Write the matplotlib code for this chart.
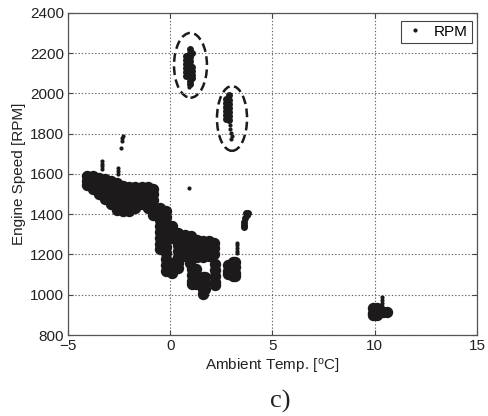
import matplotlib
matplotlib.use("Agg")
import matplotlib.pyplot as plt
from matplotlib.patches import Ellipse

plt.rcParams['font.family'] = ['Liberation Sans', 'DejaVu Sans']
plt.rcParams['mathtext.default'] = 'regular'

# engine speed vs ambient temperature, dense logged samples
# stored as columns: (temperature, [rpm values at that temperature])
main_band = [
    (-4.05, [1588, 1566, 1545]),
    (-3.8, [1590, 1563, 1537, 1525]),
    (-3.5, [1580, 1553, 1523, 1500]),
    (-3.2, [1573, 1546, 1516, 1488, 1475]),
    (-2.9, [1563, 1536, 1506, 1476, 1450]),
    (-2.6, [1555, 1528, 1498, 1468, 1440, 1422]),
    (-2.3, [1540, 1513, 1483, 1453, 1423, 1414]),
    (-2.0, [1535, 1508, 1478, 1448, 1418]),
    (-1.7, [1535, 1508, 1478, 1448, 1430]),
    (-1.4, [1535, 1508, 1478, 1450]),
    (-1.1, [1533, 1506, 1476, 1446, 1430]),
    (-0.82, [1527, 1500, 1470, 1440, 1410, 1395]),
    (-0.5, [1430, 1403, 1373, 1343, 1313, 1283, 1253, 1225]),
    (-0.2, [1415, 1388, 1358, 1328, 1298, 1268, 1238, 1208, 1178, 1148, 1120]),
    (0.1, [1340, 1313, 1282, 1160, 1130, 1106]),
    (0.4, [1305, 1278, 1248, 1218, 1188, 1158, 1134]),
    (0.7, [1295, 1268, 1238, 1208, 1192]),
    (1.0, [1293, 1266, 1236, 1206, 1189]),
    (1.3, [1270, 1243, 1213, 1189]),
    (1.6, [1265, 1238, 1208, 1189]),
    (1.9, [1265, 1238, 1208, 1194]),
    (2.12, [1258, 1230, 1202]),
]
low_lobes = [
    (0.95, [1158]),
    (1.05, [1128, 1100, 1070, 1055]),
    (1.25, [1128, 1100, 1070, 1055]),
    (1.6, [1088, 1060, 1030, 1004]),
    (1.72, [1088, 1060, 1030]),
    (2.2, [1153, 1125, 1095, 1065, 1050]),
]
warm_3c = [
    (2.82, [1148, 1120, 1102]),
    (3.05, [1165, 1138, 1108, 1092]),
    (3.17, [1165, 1138, 1108, 1092]),
]
warm_10c = [
    (9.9, [936, 908, 900]),
    (10.12, [936, 908, 900]),
    (10.4, [912]),
    (10.6, [912]),
]

# smaller clusters
idle_37 = [(3.72, [1405]), (3.8, [1407]), (3.75, [1395]), (3.66, [1380]),
           (3.62, [1362]), (3.6, [1346]), (3.62, [1336])]
high_a = [
    (0.78, [2185, 2165, 2145, 2125, 2105, 2085]),
    (0.95, [2220, 2200, 2180, 2160, 2140, 2120, 2100, 2080, 2060, 2045]),
    (1.08, [2200, 2130, 2110, 2090, 2075]),
]
high_b = [
    (2.75, [1975, 1955, 1935, 1915, 1895, 1875]),
    (2.88, [1990, 1970, 1950, 1930, 1910, 1890, 1868]),
]

# isolated samples and thin spikes
strays = [
    (-2.33, [1790]), (-2.35, [1778]), (-2.37, [1765]), (-2.42, [1728]),
    (-3.35, [1625, 1640, 1652, 1665]), (-2.55, [1600, 1615, 1632]),
    (0.92, [1530]),
    (3.25, [1205, 1218, 1232, 1245, 1258]),
    (2.9, [1842]), (2.93, [1822]), (2.98, [1802]), (3.0, [1790]), (2.96, [1776]),
    (0.94, [2034]),
    (10.35, [945, 960, 975, 990]),
]

# circled high-speed regions: (centre temp, centre rpm, width, height)
rings = [(0.99, 2140, 1.61, 322), (3.02, 1876, 1.47, 322)]

xticks = [-5, 0, 5, 10, 15]
yticks = [800, 1000, 1200, 1400, 1600, 1800, 2000, 2200, 2400]


def flatten(cols):
    xs, ys = [], []
    for t, rpms in cols:
        for r in rpms:
            xs.append(t)
            ys.append(r)
    return xs, ys


dot = '#1c1a1b'
fig = plt.figure(figsize=(4.88, 4.16), dpi=100)
ax = fig.add_axes([0.1393, 0.1947, 0.8382, 0.7741])

bx, by = flatten(main_band + low_lobes + warm_3c + warm_10c)
ax.plot(bx, by, 'o', ms=8.2, color=dot, mec='none')
mx, my = flatten(idle_37 + high_a + high_b)
ax.plot(mx, my, 'o', ms=5.0, color=dot, mec='none')
sx, sy = flatten(strays)
pts, = ax.plot(sx, sy, 'o', ms=3.0, color=dot, mec='none', label='RPM')

for cx, cy, w, h in rings:
    ax.add_patch(Ellipse((cx, cy), w, h, fill=False, ec='#1c1a1b',
                         lw=1.8, ls=(0, (3.5, 1.8))))

ax.set_xlim(-5, 15)
ax.set_ylim(800, 2400)
ax.set_xticks(xticks)
ax.set_yticks(yticks)
ax.grid(True, ls=(0, (1.2, 1.8)), lw=0.8, color='#666666')
ax.tick_params(direction='in', length=3.5, labelsize=11, pad=3,
               top=True, right=True, color='#444444', labelcolor='#222222')
for s in ax.spines.values():
    s.set_color('#555555')
    s.set_linewidth(0.9)

ax.set_xlabel('Ambient Temp. [$^o$C]', fontsize=11, labelpad=3, color='#222222')
ax.set_ylabel('Engine Speed [RPM]', fontsize=11, labelpad=3, color='#222222')

leg = ax.legend(handles=[pts], loc='upper right', bbox_to_anchor=(0.995, 0.985),
                fancybox=False, framealpha=1, edgecolor='#444444',
                fontsize=11, handlelength=1.3, borderpad=0.25,
                handletextpad=0.6, borderaxespad=0.2)
leg.get_frame().set_linewidth(0.8)

fig.text(0.574, 0.035, 'c)', family=['Liberation Serif', 'DejaVu Serif'],
         fontsize=19, ha='center', va='center', color='#222222')

fig.savefig('out.png', dpi=100)
